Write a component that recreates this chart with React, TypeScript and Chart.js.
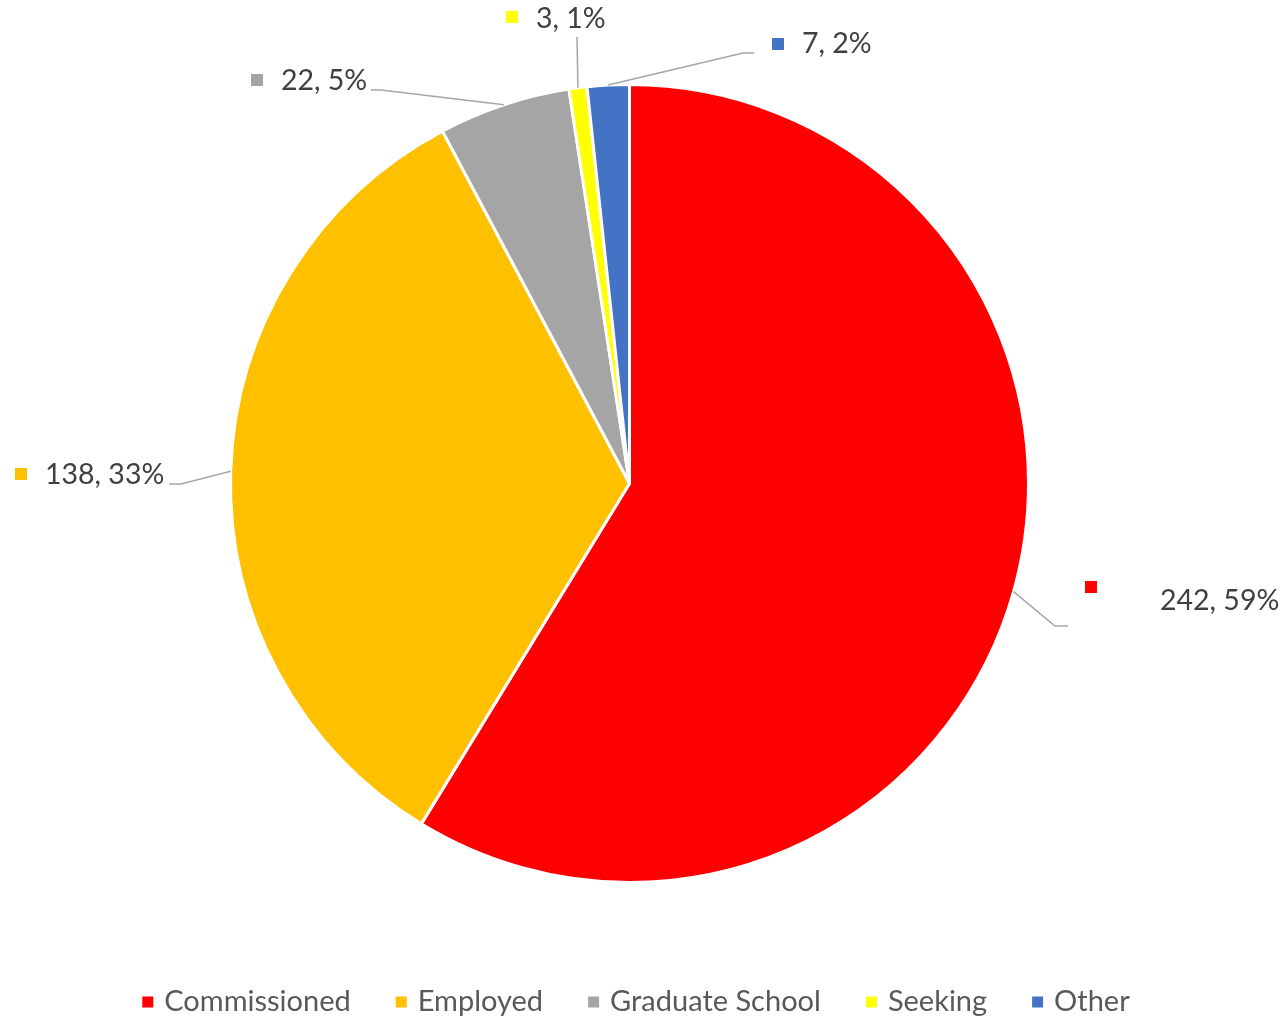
import React, { useEffect, useRef } from "react";
import { Chart, registerables } from "chart.js";

Chart.register(...registerables);

const categories = ["Commissioned", "Employed", "Graduate School", "Seeking", "Other"];
const counts = [242, 138, 22, 3, 7];
const percentLabels = ["59%", "33%", "5%", "1%", "2%"];
const colors = ["#FF0000", "#FFC000", "#A5A5A5", "#FFFF00", "#4472C4"];

// label layout (annotation placement, not data)
const labelSquares = [[1085, 581], [15, 468], [251, 74], [506, 11], [772, 38]];
const labelTextPos = [[1160, 601], [45, 475], [281, 81], [536, 19], [802, 44]];
const leaderPaths = [
  [[1055, 626], [1068, 626]],
  [[181, 484], [169, 484]],
  [[381, 90], [371, 90]],
  [[577, 37]],
  [[743, 53], [754, 53]],
];

const FONT = "Lato, 'Open Sans', sans-serif";

const labelPlugin = {
  id: "excelLabels",
  afterDraw(chart: any) {
    const ctx = chart.ctx;
    const meta = chart.getDatasetMeta(0);
    ctx.save();
    meta.data.forEach((arc: any, i: number) => {
      const mid = (arc.startAngle + arc.endAngle) / 2;
      const ax = arc.x + Math.cos(mid) * arc.outerRadius;
      const ay = arc.y + Math.sin(mid) * arc.outerRadius;
      ctx.strokeStyle = "#A6A6A6";
      ctx.lineWidth = 1.5;
      ctx.beginPath();
      ctx.moveTo(ax, ay);
      leaderPaths[i].forEach((p) => ctx.lineTo(p[0], p[1]));
      ctx.stroke();
      ctx.fillStyle = colors[i];
      ctx.fillRect(labelSquares[i][0], labelSquares[i][1], 12, 12);
      ctx.fillStyle = "#404040";
      ctx.font = `28.5px ${FONT}`;
      ctx.textAlign = "left";
      ctx.textBaseline = "middle";
      ctx.fillText(`${counts[i]}, ${percentLabels[i]}`, labelTextPos[i][0], labelTextPos[i][1]);
    });
    // legend
    ctx.font = `29px ${FONT}`;
    const sq = 11, gapA = 11, gapB = 45;
    const widths = categories.map((c) => ctx.measureText(c).width);
    const total = widths.reduce((a, w) => a + sq + gapA + w, 0) + gapB * (categories.length - 1);
    let x = 636 - total / 2;
    const y = 1002;
    categories.forEach((c, i) => {
      ctx.fillStyle = colors[i];
      ctx.fillRect(x, y - sq / 2, sq, sq);
      x += sq + gapA;
      ctx.fillStyle = "#595959";
      ctx.textBaseline = "middle";
      ctx.fillText(c, x, y);
      x += widths[i] + gapB;
    });
    ctx.restore();
  },
};

export default function App() {
  const ref = useRef<HTMLCanvasElement>(null);
  useEffect(() => {
    const chart = new Chart(ref.current!, {
      type: "pie",
      data: {
        labels: categories,
        datasets: [
          {
            data: counts,
            backgroundColor: colors,
            borderColor: "#FFFFFF",
            borderWidth: 3,
          },
        ],
      },
      options: {
        animation: false,
        responsive: false,
        layout: { padding: { left: 229, right: 257, top: 83, bottom: 139 } },
        plugins: { legend: { display: false }, tooltip: { enabled: false } },
      },
      plugins: [labelPlugin],
    });
    return () => chart.destroy();
  }, []);
  return (
    <div style={{ position: "absolute", left: 0, top: 0, width: 1287, height: 1023, background: "#fff" }}>
      <canvas ref={ref} width={1287} height={1023} style={{ width: 1287, height: 1023 }} />
    </div>
  );
}
